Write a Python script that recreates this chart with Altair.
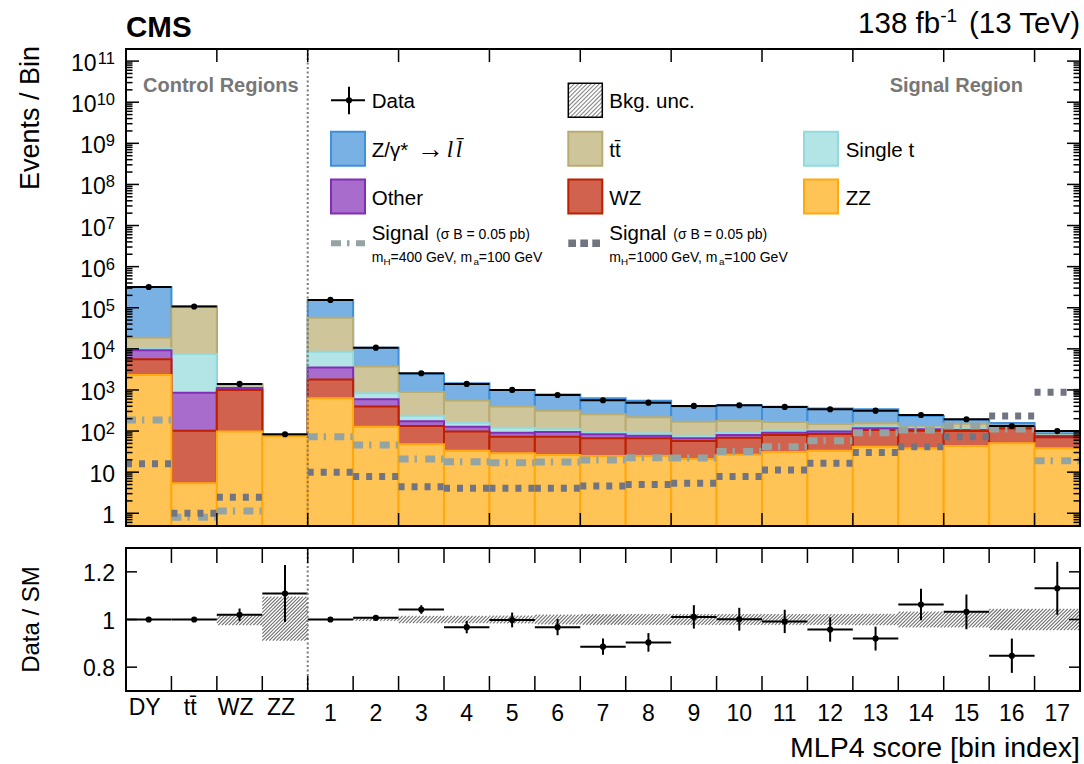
import math
import altair as alt
import pandas as pd

# ---------------- layout (plot-area pixels) ----------------
W = 954
H_UP = 477
GAP = 22
H_LO = 143
H = H_UP + GAP + H_LO
LO_TOP = H_UP + GAP

# ---------------- data ----------------
bins = ["DY", "tt\u0304", "WZ", "ZZ"] + [str(i) for i in range(1, 18)]
n_bins = len(bins)

# background yields per bin (bottom -> top of stack)
zz = [2300, 5.4, 97, 74.5, 630, 128, 47.7, 33, 28.8, 26, 24.8, 24.8, 21, 26.7, 31, 33, 41.7, 38, 43.4, 50.5, 38]
wz = [3300, 96.6, 903, 0.5, 1170, 265, 85.3, 64, 44.2, 47, 42.2, 42.2, 36, 42.3, 49, 52, 64.3, 64, 56.6, 64.5, 32.8]
other = [3700, 758, 120, 0.3, 1700, 202, 40, 31, 18, 22, 17, 10, 10, 11, 11, 12, 11, 9, 6, 9, 5.2]
single_t = [700, 6640, 10, 0.0, 5000, 235, 64, 32, 30, 16, 11, 11, 10, 11, 9, 9, 11, 10, 6, 4, 2]
ttbar = [8700, 99000, 235, 0.0, 48500, 2870, 658, 390, 272, 203, 162, 129, 92, 85, 66, 43, 27, 7, 38, 7, 2]
dy = [301300, 500, 10, 0.0, 98000, 6925, 1552, 896, 609, 466, 373, 326, 235, 248, 223, 205, 186, 103, 38, 22, 8.4]

data = [3.2e5, 1.07e5, 1400, 83.5, 1.55e5, 1.07e4, 2550, 1400, 1000, 755, 561, 491, 408, 424, 386, 339, 314, 246, 194, 133, 100]

ratio = [1.0, 1.0, 1.02, 1.109, 1.0, 1.007, 1.042, 0.968, 0.998, 0.968, 0.886, 0.904, 1.011, 1.001, 0.992, 0.958, 0.92, 1.063, 1.032, 0.848, 1.131]
ratio_err = [0.003, 0.004, 0.026, 0.12, 0.003, 0.008, 0.018, 0.026, 0.031, 0.034, 0.034, 0.039, 0.049, 0.048, 0.049, 0.051, 0.05, 0.066, 0.073, 0.072, 0.111]

band_lo = [1.0, 1.0, 0.976, 0.911, 0.998, 0.994, 0.985, 0.985, 0.984, 0.98, 0.978, 0.977, 0.977, 0.977, 0.977, 0.977, 0.976, 0.967, 0.967, 0.956, 0.955]
band_hi = [1.0, 1.0, 1.02, 1.096, 1.002, 1.006, 1.015, 1.015, 1.016, 1.02, 1.022, 1.023, 1.023, 1.023, 1.023, 1.023, 1.024, 1.033, 1.033, 1.044, 1.045]

sig400 = [185, 0.8, 1.14, None, 73, 46, 21, 18, 17, 17.7, 19.8, 22.5, 22, 32, 41.7, 58, 91, 106, 133, 112, 19]
sig1000 = [16, 1.0, 2.45, None, 9.9, 7.8, 4.4, 4.06, 4.06, 4.06, 4.6, 5.0, 5.4, 7.8, 11.3, 16.5, 30, 41.7, 73, 233, 880]

procs = ["ZZ", "WZ", "Other", "Single t", "ttbar", "DY"]  # bottom -> top
proc_vals = [zz, wz, other, single_t, ttbar, dy]
edge_colors = ["#ffa90e", "#bd1f01", "#832db6", "#92dadd", "#b9ac70", "#3f90da"]
fill_colors = ["#ffc356", "#d1624d", "#a86ccc", "#b3e5e7", "#cec59b", "#79b1e5"]

YMIN, YMAX = 0.49, 1.97e11
RMIN, RMAX = 0.7, 1.3

# ---------------- scales ----------------
xs = alt.Scale(domain=[0, n_bins], range=[0, W], nice=False, zero=False)
yus = alt.Scale(type="log", domain=[YMIN, YMAX], range=[H_UP, 0], nice=False)
yls = alt.Scale(domain=[RMIN, RMAX], range=[H, LO_TOP], nice=False, zero=False)


def X(f):
    return alt.X(f, type="quantitative", scale=xs, axis=None)


def YU(f):
    return alt.Y(f, type="quantitative", scale=yus, axis=None)


def YL(f):
    return alt.Y(f, type="quantitative", scale=yls, axis=None)


def PX(f):
    return alt.X(f, type="quantitative", scale=None)


def PY(f):
    return alt.Y(f, type="quantitative", scale=None)


layers = []

# ---------------- stacked backgrounds ----------------
rows = []
for i in range(n_bins):
    c = 0.0
    for k, (p, vals) in enumerate(zip(procs, proc_vals)):
        c += vals[i]
        rows.append(dict(lo=i, hi=i + 1, top=max(c, YMIN), base=YMIN, proc=p, order=len(procs) - k))
stack_df = pd.DataFrame(rows)
layers.append(
    alt.Chart(stack_df).mark_rect(strokeWidth=2).encode(
        x=X("lo"), x2="hi", y=YU("top"), y2="base",
        fill=alt.Fill("proc:N", scale=alt.Scale(domain=procs, range=fill_colors), legend=None),
        stroke=alt.Stroke("proc:N", scale=alt.Scale(domain=procs, range=edge_colors), legend=None),
        order=alt.Order("order:Q"),
    )
)

# ---------------- signals ----------------
def sig_df(vals):
    return pd.DataFrame([dict(lo=i, hi=i + 1, v=v) for i, v in enumerate(vals) if v is not None])

layers.append(
    alt.Chart(sig_df(sig400)).mark_rule(color="#94a4a2", strokeWidth=7, strokeDash=[10, 6, 2.3, 8.3]).encode(
        x=X("lo"), x2="hi", y=YU("v"))
)
layers.append(
    alt.Chart(sig_df(sig1000)).mark_rule(color="#717581", strokeWidth=7, strokeDash=[6, 7]).encode(
        x=X("lo"), x2="hi", y=YU("v"))
)

# ---------------- data (upper) ----------------
pts = pd.DataFrame(dict(
    lo=list(range(n_bins)), hi=[i + 1 for i in range(n_bins)], c=[i + 0.5 for i in range(n_bins)],
    d=data, r=ratio, re=ratio_err,
))
pts["dlo"] = pts["d"] * (1 - pts["re"] / pts["r"])
pts["dhi"] = pts["d"] * (1 + pts["re"] / pts["r"])
pts["rlo"] = pts["r"] - pts["re"]
pts["rhi"] = pts["r"] + pts["re"]

layers.append(alt.Chart(pts).mark_rule(color="black", strokeWidth=2).encode(x=X("lo"), x2="hi", y=YU("d")))
layers.append(alt.Chart(pts).mark_rule(color="black", strokeWidth=2).encode(x=X("c"), y=YU("dlo"), y2="dhi"))
layers.append(alt.Chart(pts).mark_circle(color="black", size=38, opacity=1).encode(x=X("c"), y=YU("d")))

# ---------------- ratio band (hatched) ----------------
def hatch(x0, x1, y0, y1, s):
    segs = []
    for k in range(math.ceil((x0 + y0) / s), math.floor((x1 + y1) / s) + 1):
        c = k * s
        xa = max(x0, c - y1)
        xb = min(x1, c - y0)
        if xb - xa > 0.4:
            segs.append((xa, c - xa, xb, c - xb))
    return segs


def rpx(v):
    return H - (v - RMIN) / (RMAX - RMIN) * H_LO


hrows = []
for i in range(n_bins):
    if band_hi[i] - band_lo[i] <= 0:
        continue
    x0, x1 = i / n_bins * W, (i + 1) / n_bins * W
    y0, y1 = rpx(band_hi[i]), rpx(band_lo[i])
    for xa, ya, xb, yb in hatch(x0, x1, y0, y1, 3.5):
        hrows.append(dict(
            xa=xa * n_bins / W, xb=xb * n_bins / W,
            ya=RMIN + (H - ya) * (RMAX - RMIN) / H_LO, yb=RMIN + (H - yb) * (RMAX - RMIN) / H_LO,
        ))
layers.append(
    alt.Chart(pd.DataFrame(hrows)).mark_rule(color="#6e6e6e", strokeWidth=1.1).encode(
        x=X("xa"), x2="xb", y=YL("ya"), y2="yb")
)

# ---------------- ratio points ----------------
layers.append(alt.Chart(pts).mark_rule(color="black", strokeWidth=2).encode(x=X("lo"), x2="hi", y=YL("r")))
layers.append(alt.Chart(pts).mark_rule(color="black", strokeWidth=2).encode(x=X("c"), y=YL("rlo"), y2="rhi"))
layers.append(alt.Chart(pts).mark_circle(color="black", size=38, opacity=1).encode(x=X("c"), y=YL("r")))

# ---------------- CR / SR separator ----------------
sep = pd.DataFrame(dict(e=[4]))
for a, b in [(0, H_UP), (LO_TOP, H)]:
    layers.append(
        alt.Chart(sep).mark_rule(color="#7a7a7a", strokeWidth=2, strokeDash=[2, 2.5]).encode(
            x=X("e"), y=alt.value(a), y2=alt.value(b))
    )

# ---------------- frames ----------------
one = pd.DataFrame(dict(a=[0]))
for a, b in [(0, H_UP), (LO_TOP, H)]:
    layers.append(
        alt.Chart(one).mark_rect(fillOpacity=0, stroke="black", strokeWidth=2).encode(
            x=alt.value(0), x2=alt.value(W), y=alt.value(a), y2=alt.value(b))
    )

# ---------------- ticks ----------------
up_xt = pd.DataFrame(dict(e=list(range(2, n_bins, 2))))
lo_xt = pd.DataFrame(dict(e=list(range(1, n_bins))))
for df, spans in [(up_xt, [(0, 13), (H_UP - 13, H_UP)]), (lo_xt, [(LO_TOP, LO_TOP + 15), (H - 15, H)])]:
    for a, b in spans:
        layers.append(alt.Chart(df).mark_rule(color="black", strokeWidth=1.5).encode(
            x=X("e"), y=alt.value(a), y2=alt.value(b)))

major = [10.0 ** k for k in range(0, 12)]
minor = [m * 10.0 ** k for k in range(-1, 12) for m in range(2, 10) if YMIN < m * 10.0 ** k < YMAX]
for vals, ln in [(major, 13), (minor, 6.5)]:
    df = pd.DataFrame(dict(v=vals))
    for a, b in [(0, ln), (W - ln, W)]:
        layers.append(alt.Chart(df).mark_rule(color="black", strokeWidth=1.5).encode(
            y=YU("v"), x=alt.value(a), x2=alt.value(b)))

r_ticks = [0.8, 1.0, 1.2]
rdf = pd.DataFrame(dict(v=r_ticks))
for a, b in [(0, 11), (W - 11, W)]:
    layers.append(alt.Chart(rdf).mark_rule(color="black", strokeWidth=1.5).encode(
        y=YL("v"), x=alt.value(a), x2=alt.value(b)))

# ---------------- tick labels ----------------
LAB_FS = 23
EXP_FS = 16.5
LAB_R = -11
up_base = ["1", "10"] + ["10"] * 10
up_exp = ["", ""] + [str(k) for k in range(2, 12)]
up_lab = pd.DataFrame(dict(
    v=major, base=up_base, ex=up_exp,
    bx=[LAB_R - 0.556 * EXP_FS * len(e) for e in up_exp],
))
layers.append(alt.Chart(up_lab).mark_text(
    font="Liberation Sans", fontSize=LAB_FS, align="right", baseline="alphabetic", dy=10, color="black"
).encode(y=YU("v"), x=PX("bx"), text="base:N"))
layers.append(alt.Chart(up_lab[up_lab["ex"] != ""]).mark_text(
    font="Liberation Sans", fontSize=EXP_FS, align="right", baseline="alphabetic", dy=3, color="black"
).encode(y=YU("v"), x=alt.value(LAB_R), text="ex:N"))

lo_lab = pd.DataFrame(dict(v=r_ticks, lab=["0.8", "1", "1.2"]))
layers.append(alt.Chart(lo_lab).mark_text(
    font="Liberation Sans", fontSize=LAB_FS, align="right", baseline="alphabetic", dy=9, color="black"
).encode(y=YL("v"), x=alt.value(LAB_R), text="lab:N"))

xlab = pd.DataFrame(dict(c=[i + 0.5 for i in range(n_bins)], lab=bins))
layers.append(alt.Chart(xlab.iloc[:4]).mark_text(
    font="Liberation Sans", fontSize=LAB_FS, align="center", baseline="alphabetic", dx=-4, color="black"
).encode(x=X("c"), y=alt.value(H + 24), text="lab:N"))
layers.append(alt.Chart(xlab.iloc[4:]).mark_text(
    font="Liberation Sans", fontSize=LAB_FS, align="center", baseline="alphabetic", color="black"
).encode(x=X("c"), y=alt.value(H + 30), text="lab:N"))


# ---------------- text helper ----------------
def T(rows, **kw):
    df = pd.DataFrame(rows, columns=["t", "px", "py"])
    base = dict(font="Liberation Sans", baseline="alphabetic", align="left", color="black")
    base.update(kw)
    return alt.Chart(df).mark_text(**base).encode(x=PX("px"), y=PY("py"), text="t:N")


# titles
layers.append(T([("CMS", 0, -12)], fontSize=29.5, fontWeight="bold"))
LUM_FS = 29.5
LUM_EXP = 19
x_tev = W - 3.890 * LUM_FS            # start of "(13 TeV)"
x_exp_end = x_tev - 0.278 * LUM_FS    # after the space
layers.append(T([("(13 TeV)", W, -16)], fontSize=LUM_FS, align="right"))
layers.append(T([("-1", x_exp_end, -27)], fontSize=LUM_EXP, align="right"))
layers.append(T([("138 fb", x_exp_end - 0.889 * LUM_EXP, -16)], fontSize=LUM_FS, align="right"))
layers.append(T([("Events / Bin", -87, -3)], fontSize=27, align="right", angle=270))
layers.append(T([("Data / SM", -87, LO_TOP + H_LO / 2)], fontSize=24, align="center", angle=270))
layers.append(T([("MLP4 score [bin index]", W, H + 66)], fontSize=28.5, align="right"))
layers.append(T([("Control Regions", 17, 43)], fontSize=20, fontWeight="bold", color="#777777"))
layers.append(T([("Signal Region", 897, 43)], fontSize=20, fontWeight="bold", color="#777777", align="right"))

# ---------------- legend ----------------
C1, C2, C3 = 205, 442.3, 678
BW = 34
R1, R2, R3 = 34.3, 82.7, 130.5
box_rows = [
    (C1, R2, fill_colors[5], edge_colors[5]),
    (C2, R2, fill_colors[4], edge_colors[4]),
    (C3, R2, fill_colors[3], edge_colors[3]),
    (C1, R3, fill_colors[2], edge_colors[2]),
    (C2, R3, fill_colors[1], edge_colors[1]),
    (C3, R3, fill_colors[0], edge_colors[0]),
]
bdf = pd.DataFrame([dict(x0=x, x1=x + BW, y0=y, y1=y + BW, f=f, s=s) for x, y, f, s in box_rows])
layers.append(alt.Chart(bdf).mark_rect(strokeWidth=2).encode(
    x=PX("x0"), x2="x1", y=PY("y0"), y2="y1",
    fill=alt.Fill("f:N", scale=None), stroke=alt.Stroke("s:N", scale=None)))

# bkg unc box
unc = pd.DataFrame([dict(x0=C2, x1=C2 + BW, y0=R1, y1=R1 + BW)])
lh = pd.DataFrame([dict(xa=a, ya=b, xb=c, yb=d) for a, b, c, d in hatch(C2, C2 + BW, R1, R1 + BW, 4.2)])
layers.append(alt.Chart(lh).mark_rule(color="#8a8a8a", strokeWidth=1.1).encode(
    x=PX("xa"), x2="xb", y=PY("ya"), y2="yb"))
layers.append(alt.Chart(unc).mark_rect(fillOpacity=0, stroke="black", strokeWidth=1.5).encode(
    x=PX("x0"), x2="x1", y=PY("y0"), y2="y1"))

# data symbol
dsym = pd.DataFrame([dict(xa=C1, xb=C1 + BW, ya=R1 + 17)])
layers.append(alt.Chart(dsym).mark_rule(color="black", strokeWidth=2).encode(
    x=PX("xa"), x2="xb", y=PY("ya")))
vsym = pd.DataFrame([dict(xa=C1 + 18, ya=R1 + 3.5, yb=R1 + 31)])
layers.append(alt.Chart(vsym).mark_rule(color="black", strokeWidth=2).encode(
    x=PX("xa"), y=PY("ya"), y2="yb"))
layers.append(alt.Chart(pd.DataFrame([dict(xa=C1 + 18, ya=R1 + 17)])).mark_circle(
    color="black", size=38, opacity=1).encode(x=PX("xa"), y=PY("ya")))

# signal symbols
SY = 194.3
layers.append(alt.Chart(pd.DataFrame([dict(xa=C1, xb=C1 + BW, ya=SY)])).mark_rule(
    color="#94a4a2", strokeWidth=6, strokeDash=[10, 6, 2.5, 6.5]).encode(x=PX("xa"), x2="xb", y=PY("ya")))
layers.append(alt.Chart(pd.DataFrame([dict(xa=C2, xb=C2 + 32, ya=SY)])).mark_rule(
    color="#717581", strokeWidth=7.5, strokeDash=[7.7, 4.3]).encode(x=PX("xa"), x2="xb", y=PY("ya")))

TX1, TX2, TX3 = C1 + 40.7, C2 + 41, C3 + 41.7
FS = 20.5
layers.append(T([
    ("Data", TX1, R1 + 25), ("Bkg. unc.", TX2, R1 + 25),
    ("Z/\u03b3* ", TX1, R2 + 25), ("tt\u0304", TX2, R2 + 25), ("Single t", TX3, R2 + 25),
    ("Other", TX1, R3 + 25), ("WZ", TX2, R3 + 25), ("ZZ", TX3, R3 + 25),
    ("Signal", TX1, 191), ("Signal", TX2, 191),
], fontSize=FS))
layers.append(T([("\u2192", TX1 + 45, R2 + 26)], fontSize=27, font="Liberation Serif"))
layers.append(T([("l", TX1 + 75, R2 + 25), ("l\u0304", TX1 + 84, R2 + 25)], fontSize=23,
                font="Liberation Serif", fontStyle="italic"))
layers.append(T([("(\u03c3 B = 0.05 pb)", TX1 + 64.3, 190.3), ("(\u03c3 B = 0.05 pb)", TX2 + 64, 190.3)], fontSize=14))

SB = 212.5
small = [
    ("m", TX1, SB), ("=400 GeV, m", TX1 + 18.8, SB), ("=100 GeV", TX1 + 107.1, SB),
    ("m", TX2, SB), ("=1000 GeV, m", TX2 + 18.8, SB), ("=100 GeV", TX2 + 115.0, SB),
]
layers.append(T(small, fontSize=14))
subs = [("H", TX1 + 11.7, SB + 3), ("a", TX1 + 101.7, SB + 3), ("H", TX2 + 11.7, SB + 3), ("a", TX2 + 109.6, SB + 3)]
layers.append(T(subs, fontSize=9.8))

chart = alt.layer(*layers).resolve_scale(x="independent", y="independent").properties(
    width=W, height=H,
    padding={"left": 126, "top": 49, "right": 1084 - 126 - W, "bottom": 764 - 49 - H},
    autosize=alt.AutoSizeParams(type="none"),
).configure_view(stroke=None)

chart.save("out.html", embed_options={"renderer": "svg", "actions": False})
